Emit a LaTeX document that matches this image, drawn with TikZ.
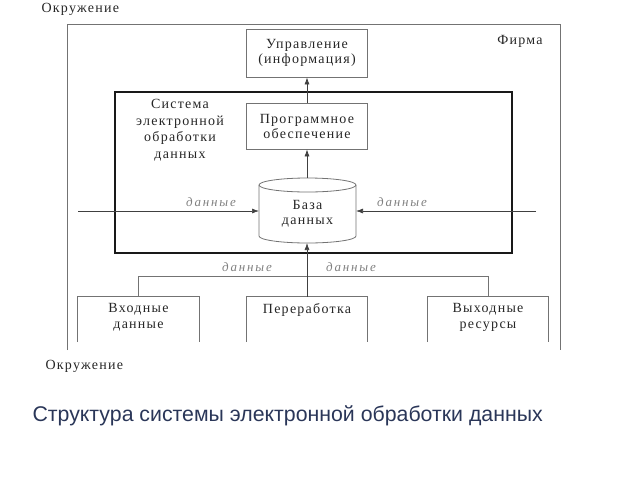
\documentclass[tikz,border=0pt]{standalone}
\usepackage{fontspec}
\setmainfont{Liberation Serif}
\newfontfamily\diagfont[LetterSpace=9]{Liberation Serif}
\newfontfamily\flowfont[LetterSpace=14]{Liberation Serif}
\newfontfamily\titlefont{Liberation Sans}
\usetikzlibrary{arrows.meta}
\begin{document}
\begin{tikzpicture}[x=1pt,y=-1pt,
  frameline/.style={draw=black!55,line width=0.8pt},
  boxnode/.style={frameline,minimum width=121pt,minimum height=48pt,align=center,inner sep=0pt,font=\diagfont\fontsize{14}{15}\selectfont,text=black!85},
  opennode/.style={minimum width=121pt,minimum height=45pt,align=center,inner sep=0pt},
  lbl/.style={font=\diagfont\fontsize{14}{15.5}\selectfont,text=black!85,align=center},
  flowlbl/.style={font=\flowfont\itshape\fontsize{13}{14}\selectfont,text=black!50},
  arr/.style={draw=black!75,line width=0.7pt,-{Latex[length=7pt,width=5pt]}},
  plainline/.style={draw=black!55,line width=0.8pt}]
\useasboundingbox (0,0) rectangle (640,480);
% outer frame (open at bottom)
\draw[frameline] (67,350) -- (67,24) -- (560,24) -- (560,350);
\node[lbl,anchor=west] (env1) at (38,9) {Окружение};
\node[lbl,anchor=west] (env2) at (42,366) {Окружение};
\node[lbl] (firm) at (520,41) {Фирма};
% inner box
\node[draw=black!90,line width=1.8pt,minimum width=397pt,minimum height=161pt,inner sep=0pt] (sys) at (313.5,172.5) {};
\node[lbl,font=\diagfont\fontsize{14}{16.5}\selectfont] (systxt) at (180,130) {Система\\электронной\\обработки\\данных};
% boxes
\node[boxnode] (upr) at (307,53) {Управление\\(информация)};
\node[boxnode,minimum height=46pt] (prog) at (307,126) {Программное\\обеспечение};
% database cylinder
\fill[white] (259,185) rectangle (356,236);
\draw[frameline] (259,185) -- (259,236) arc[start angle=180,end angle=360,x radius=48.5pt,y radius=7pt] -- (356,185);
\draw[frameline] (307.5,185) ellipse[x radius=48.5pt,y radius=7pt];
\node[lbl,minimum width=97pt,minimum height=50pt,inner sep=0pt] (db) at (307.5,214) {База\\данных};
\coordinate (dbtop) at (307,178);
\coordinate (dbbot) at (307,243);
\coordinate (dbleft) at (259,211);
\coordinate (dbright) at (356,211);
% bottom boxes (open at bottom)
\node[opennode] (vhod) at (138.5,319.5) {};
\node[opennode] (pere) at (307,319.5) {};
\node[opennode] (vyh) at (488,319.5) {};
\foreach \n in {vhod,pere,vyh}{
  \draw[frameline] (\n.south west) -- (\n.north west) -- (\n.north east) -- (\n.south east);
}
\node[lbl,anchor=north] (vhodt) at (vhod.north) [yshift=-3pt] {Входные\\данные};
\node[lbl,anchor=north] (peret) at (pere.north) [yshift=-3pt] {Переработка};
\node[lbl,anchor=north] (vyht) at (vyh.north) [yshift=-3pt] {Выходные\\ресурсы};
% connectors
\draw[arr] (prog.north) -- (upr.south);
\draw[arr] (dbtop) -- (prog.south);
\coordinate (inl) at (78,211);
\coordinate (inr) at (536,211);
\draw[arr] (inl) -- (dbleft);
\draw[arr] (inr) -- (dbright);
\node[flowlbl] (d1) at (211,202) {данные};
\node[flowlbl] (d2) at (402,202) {данные};
\coordinate (hl) at (vhod.north |- 0,276);
\coordinate (hr) at (vyh.north |- 0,276);
\draw[plainline] (vhod.north) -- (hl) -- (hr) -- (vyh.north);
\draw[arr] (pere.north) -- (dbbot);
\node[flowlbl] (d3) at (247,267) {данные};
\node[flowlbl] (d4) at (351,267) {данные};
% title
\node[anchor=west,font=\titlefont\fontsize{21.3}{25}\selectfont,text={rgb,255:red,42;green,54;blue,88}] (title) at (29,416) {Структура системы электронной обработки данных};
\end{tikzpicture}
\end{document}
